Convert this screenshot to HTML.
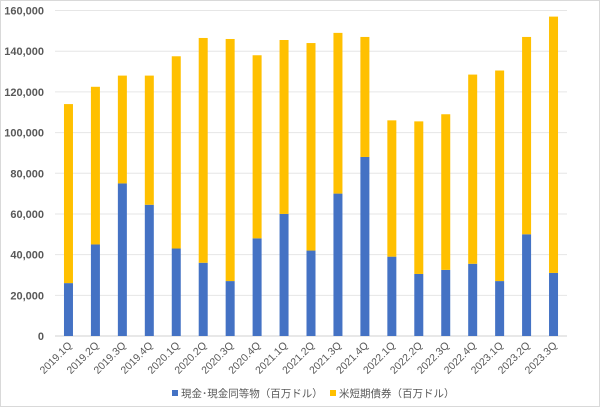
<!DOCTYPE html>
<html><head><meta charset="utf-8"><style>
html,body{margin:0;padding:0;background:#fff;}
svg{display:block;font-family:"Liberation Sans","Noto Sans CJK JP",sans-serif;}
</style></head><body>
<svg id="chart" width="600" height="407" viewBox="0 0 600 407">
<rect x="0.5" y="0.5" width="599" height="406" fill="#fff" stroke="#d9d9d9"/>
<g id="grid"></g><g id="bars"></g><g id="ylabels"></g><g id="xlabels"></g>
<g>
<rect x="172" y="390" width="6" height="6" fill="#4472C4"/>
<text x="181" y="397" font-size="10.5" fill="#595959">現金･現金同等物（百万ドル）</text>
<rect x="330" y="390" width="6" height="6" fill="#FFC000"/>
<text x="339" y="397" font-size="10.5" fill="#595959">米短期債券（百万ドル）</text>
</g>
</svg>
<script>
const categories=["2019.1Q","2019.2Q","2019.3Q","2019.4Q","2020.1Q","2020.2Q","2020.3Q","2020.4Q","2021.1Q","2021.2Q","2021.3Q","2021.4Q","2022.1Q","2022.2Q","2022.3Q","2022.4Q","2023.1Q","2023.2Q","2023.3Q"];
const cash=[26000,45000,75000,64500,43000,36000,27000,48000,60000,42000,70000,88000,39000,30500,32500,35500,27000,50000,31000];
const tbills=[88000,77500,53000,63500,94500,110500,119000,90000,85500,102000,79000,59000,67000,75000,76500,93000,103500,97000,126000];
const yTicks=[0,20000,40000,60000,80000,100000,120000,140000,160000];
const yTickLabels=["0","20,000","40,000","60,000","80,000","100,000","120,000","140,000","160,000"];
const NS="http://www.w3.org/2000/svg";
const plotLeft=55,plotRight=567,plotTop=10.5,plotBottom=336,yMax=160000;
const step=(plotRight-plotLeft)/categories.length,bw=9;
function yScale(v){return plotBottom-(v/yMax)*(plotBottom-plotTop);}
function xc(i){return plotLeft+step*(i+0.5);}
function mk(t,a,p){const e=document.createElementNS(NS,t);for(const k in a)e.setAttribute(k,a[k]);p.appendChild(e);return e;}
const gridG=document.getElementById('grid'),barsG=document.getElementById('bars'),ylG=document.getElementById('ylabels'),xlG=document.getElementById('xlabels');
yTicks.forEach((v,i)=>{
 const l=mk('line',{x1:plotLeft,x2:plotRight,y1:yScale(v),y2:yScale(v),stroke:i===0?'#d0d0d0':'#e6e6e6','stroke-width':1},gridG);
 
 
 const t=mk('text',{x:44,y:yScale(v)+4,'text-anchor':'end','font-size':11,'font-weight':'bold',fill:'#595959'},ylG);
 t.textContent=yTickLabels[i];
 
 
});
categories.forEach((c,i)=>{
 const x=xc(i)-bw/2;
 const b=mk('rect',{x:x,y:yScale(cash[i]),width:bw,height:plotBottom-yScale(cash[i]),fill:'#4472C4'},barsG);
 
 
 const tt=cash[i]+tbills[i];
 const b2=mk('rect',{x:x,y:yScale(tt),width:bw,height:yScale(cash[i])-yScale(tt),fill:'#FFC000'},barsG);
 
 
 const t=mk('text',{x:xc(i)+4,y:346,'text-anchor':'end','font-size':10.5,fill:'#595959',transform:'rotate(-45 '+(xc(i)+4)+' 346)'},xlG);
 t.textContent=c;
 
 
});
</script>
</body></html>
